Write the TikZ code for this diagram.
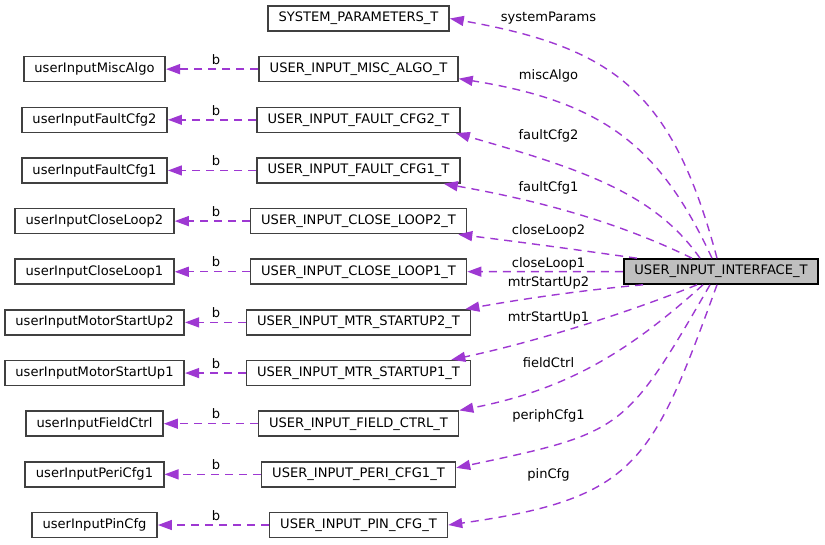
\documentclass[tikz,border=0pt]{standalone}
\usepackage{fontspec}
\setmainfont{DejaVu Sans}
\usetikzlibrary{positioning, arrows.meta, calc}
\definecolor{edge}{RGB}{158,56,210}
\definecolor{frame}{gray}{0.25}
\definecolor{focus}{gray}{0.75}

\begin{document}
\begin{tikzpicture}[
  x=0.75pt, y=0.75pt,
  font=\fontsize{9.8}{11}\selectfont,
  box/.style={draw=frame, fill=white, line width=1.2pt, minimum height=18.75pt,
              inner xsep=8pt, inner ysep=0pt},
  ref/.style={draw=edge, line width=1.05pt, dash pattern=on 6pt off 4.5pt,
              -{Triangle[length=10.5pt, width=7.5pt, fill=edge]}},
  lbl/.style={inner sep=1pt},
]
\useasboundingbox (0,0) rectangle (825,-544);

\node[box] (t0) at (358.5,-18.5) {SYSTEM\_PARAMETERS\_T};
\foreach \row/\tname/\uname in {1/MISC\_ALGO/MiscAlgo, 2/FAULT\_CFG2/FaultCfg2,
    3/FAULT\_CFG1/FaultCfg1, 4/CLOSE\_LOOP2/CloseLoop2, 5/CLOSE\_LOOP1/CloseLoop1,
    6/MTR\_STARTUP2/MotorStartUp2, 7/MTR\_STARTUP1/MotorStartUp1,
    8/FIELD\_CTRL/FieldCtrl, 9/PERI\_CFG1/PeriCfg1, 10/PIN\_CFG/PinCfg}{
  \pgfmathsetmacro{\y}{-18.5-50.65*\row}
  \node[box] (t\row) at (358.5,\y) {USER\_INPUT\_\tname\_T};
  \node[box] (u\row) at (94.5,\y) {userInput\uname};
  \draw[ref] (t\row) -- (u\row);
  \node[lbl, anchor=south] (b\row) at (216,\y+3) {b};
}

\node[box, fill=focus, draw=black] (main) at (721,-271.5) {USER\_INPUT\_INTERFACE\_T};

% members of the interface
\draw[ref] ($(main.north)+(-4,0)$) .. controls +(105:170) and +(-10:170) .. (t0.east);
\draw[ref] ($(main.north)+(-9,0)$) .. controls +(115:120) and +(-9:150) .. ($(t1.east)+(0,-9.5)$);
\draw[ref] ($(main.north)+(-21,0)$) .. controls +(125:80) and +(-16:130) .. ($(t2.south east)+(-5,0)$);
\draw[ref] ($(main.north)+(-29,0)$) .. controls +(154:80) and +(-10:100) .. ($(t3.south east)+(-17,0)$);
\draw[ref] ($(main.north)+(-84,0)$) .. controls +(172:60) and +(-7:60) .. ($(t4.south east)+(-9,0)$);
\draw[ref] (main) -- (t5);
\draw[ref] ($(main.south)+(-78,0)$) .. controls +(185:60) and +(10:60) .. ($(t6.north east)+(-6,0)$);
\draw[ref] ($(main.south)+(-24,0)$) .. controls +(202:70) and +(12:90) .. ($(t7.north east)+(-20,0)$);
\draw[ref] ($(main.south)+(-18,0)$) .. controls +(222:100) and +(11:110) .. (t8.north east);
\draw[ref] ($(main.south)+(-11,0)$) .. controls +(240:170) and +(12:170) .. ($(t9.east)+(0,6.5)$);
\draw[ref] ($(main.south)+(-4,0)$) .. controls +(250:190) and +(8:190) .. (t10.east);

\node[lbl] (l0) at (548.5,-18.5) {systemParams};
\node[lbl] (l1) at (548.5,-76) {miscAlgo};
\node[lbl] (l2) at (548.5,-136) {faultCfg2};
\node[lbl] (l3) at (548.5,-188) {faultCfg1};
\node[lbl] (l4) at (548.5,-231) {closeLoop2};
\node[lbl] (l5) at (548.5,-264) {closeLoop1};
\node[lbl] (l6) at (548.5,-283) {mtrStartUp2};
\node[lbl] (l7) at (548.5,-318) {mtrStartUp1};
\node[lbl] (l8) at (548.5,-363) {fieldCtrl};
\node[lbl] (l9) at (548.5,-416) {periphCfg1};
\node[lbl] (l10) at (548.5,-475) {pinCfg};
\end{tikzpicture}
\end{document}
